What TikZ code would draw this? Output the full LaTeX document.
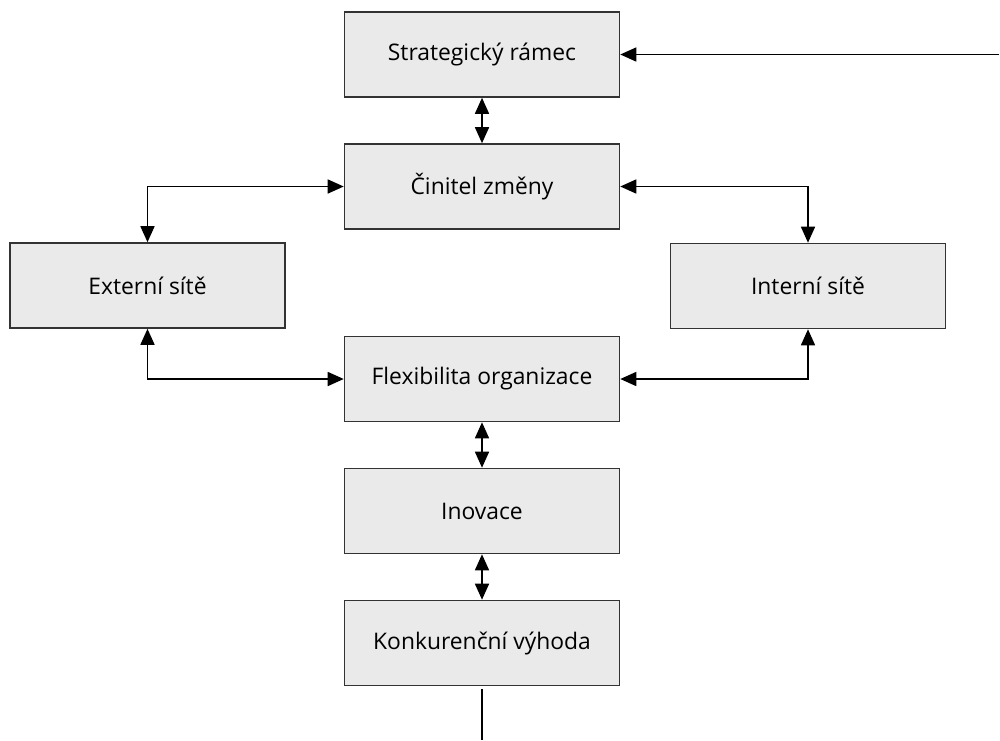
\documentclass[tikz,border=0pt]{standalone}
\usepackage{fontspec}
\setmainfont{Open Sans}
\usepackage{tikz}
\usetikzlibrary{arrows.meta}
\definecolor{boxgray}{HTML}{EAEAEA}
\tikzstyle{box}=[draw=black!80,%
                 rectangle,%
                 fill=boxgray,%
                 line width=0.9pt,%
                 minimum width  = 5.5cm,%
                 minimum height = 1.7cm,%
                 font=\fontsize{13}{15}\selectfont,%
                 node distance = 2.64cm]
\tikzstyle{link}=[line width=0.9pt,{Triangle[length=3.2mm,width=2.8mm]}-{Triangle[length=3.2mm,width=2.8mm]}]
\tikzstyle{feed}=[line width=0.9pt,-{Triangle[length=3.2mm,width=2.8mm]}]

\begin{document}
\begin{tikzpicture}
            \useasboundingbox (0,0) rectangle (20,-14.8);
            \node[box] (ramec) at (9.64,-1.09) {Strategický rámec};
            \node[box][below of=ramec] (cinitel) {Činitel změny};
            \node[box][below of=cinitel,node distance=3.85cm] (flex) {Flexibilita organizace};
            \node[box][below of=flex] (inovace) {Inovace};
            \node[box][below of=inovace] (vyhoda) {Konkurenční výhoda};
            \node[box] (externi) at (2.95,-5.71) {Externí sítě};
            \node[box] (interni) at (16.16,-5.72) {Interní sítě};
            \coordinate (zpet) at (19.97,-1.09);
            \coordinate (dole) at (9.64,-14.8);
            \draw [link] (ramec.south) -- (cinitel.north);
            \draw [link] (externi.north) |- (cinitel.west);
            \draw [link] (interni.north) |- (cinitel.east);
            \draw [link] (externi.south) |- (flex.west);
            \draw [link] (interni.south) |- (flex.east);
            \draw [link] (flex.south) -- (inovace.north);
            \draw [link] (inovace.south) -- (vyhoda.north);
            \draw [feed] (zpet) -- (ramec.east);
            \draw [line width=0.9pt] ([yshift=-0.06cm]vyhoda.south) -- (dole);
  \end{tikzpicture}
\end{document}
